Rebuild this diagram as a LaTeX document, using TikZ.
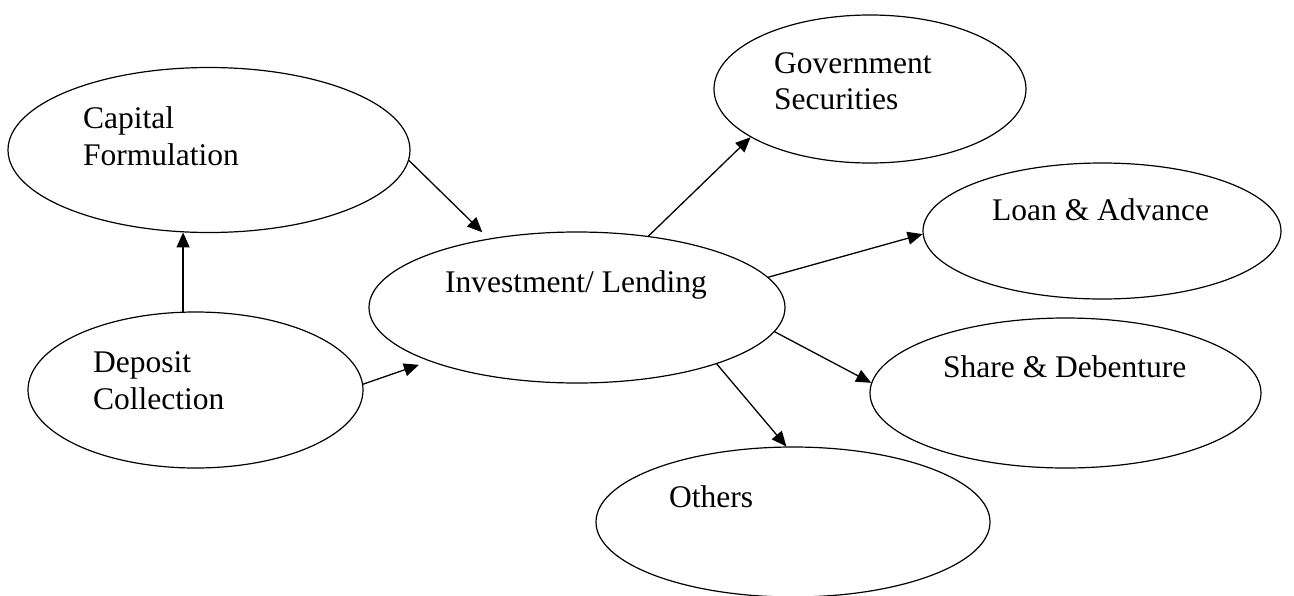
\documentclass[tikz,border=0pt]{standalone}
\usepackage{fontspec}
\setmainfont{Liberation Serif}
\usetikzlibrary{shapes.geometric,arrows.meta}
\begin{document}
\begin{tikzpicture}[x=1pt,y=-1pt,
  oval/.style n args={2}{draw, ellipse, line width=1.2pt, inner sep=0pt,
                         minimum width=#1, minimum height=#2},
  lbl/.style={anchor=base west, inner sep=0pt, font=\fontsize{31.5}{37}\selectfont},
  link/.style={line width=1.3pt, -{Triangle[length=15pt,width=13pt]}}]
\useasboundingbox (0,0) rectangle (1294,595);
\clip (0,0) rectangle (1294,595);

% bubbles
\node[oval={402pt}{165pt}] (cap)   at (209,150)    {};
\node[oval={335pt}{156pt}] (dep)   at (195.5,390)  {};
\node[oval={416pt}{151pt}] (inv)   at (577,307.5)  {};
\node[oval={312pt}{148pt}] (gov)   at (870,89)     {};
\node[oval={358pt}{136pt}] (loan)  at (1102,231)   {};
\node[oval={391pt}{150pt}] (share) at (1065.5,393) {};
\node[oval={394pt}{150pt}] (oth)   at (793,522)    {};

% captions
\node[lbl] (capA)   at (83,128)  {Capital};
\node[lbl] (capB)   at (83,165)  {Formulation};
\node[lbl] (depA)   at (93,372)  {Deposit};
\node[lbl] (depB)   at (93,409)  {Collection};
\node[lbl] (invA)   at (445,292) {Investment/ Lending};
\node[lbl] (govA)   at (774,73)  {Government};
\node[lbl] (govB)   at (774,109) {Securities};
\node[lbl] (loanA)  at (992,220) {Loan \& Advance};
\node[lbl] (shareA) at (943,377) {Share \& Debenture};
\node[lbl] (othA)   at (669,507) {Others};

% flows
\draw[link] (dep.99) -- (dep.99 |- cap.-107.4);
\draw[link, shorten >=9pt]  (cap.-3.4) -- (inv.142.5);
\draw[link, shorten >=11pt] (dep.2.4)  -- (inv.-160);
\draw[link] (inv.45)    -- (gov.-158.9);
\draw[link] (inv.9.3)   -- (loan.181.3);
\draw[link] (inv.-7.9)  -- (share.177.1);
\draw[link] (inv.-22.8) -- (oth.95.8);
\end{tikzpicture}
\end{document}
